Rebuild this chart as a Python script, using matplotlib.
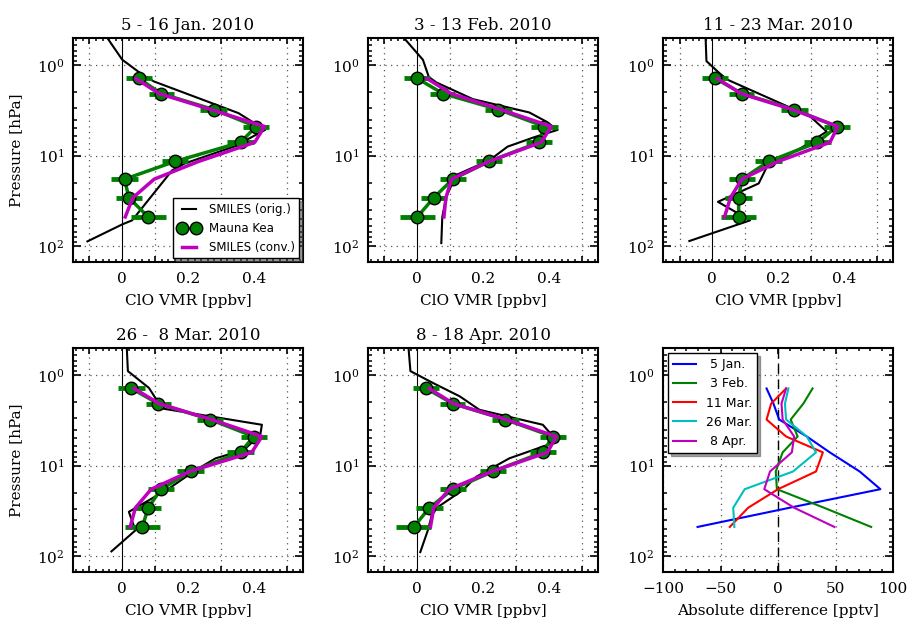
import matplotlib
matplotlib.use("Agg")
import matplotlib.pyplot as plt
from matplotlib.ticker import FixedLocator, MultipleLocator, NullFormatter, FuncFormatter

plt.rcParams['font.family'] = 'serif'
plt.rcParams['font.serif'] = ['DejaVu Serif']
plt.rcParams['mathtext.fontset'] = 'dejavuserif'
plt.rcParams['xtick.direction'] = 'in'
plt.rcParams['ytick.direction'] = 'in'
plt.rcParams['xtick.top'] = True
plt.rcParams['ytick.right'] = True
plt.rcParams['xtick.major.size'] = 4.5
plt.rcParams['ytick.major.size'] = 5.5
plt.rcParams['xtick.minor.size'] = 2.5
plt.rcParams['ytick.minor.size'] = 3
plt.rcParams['xtick.major.width'] = 1.2
plt.rcParams['ytick.major.width'] = 1.2
plt.rcParams['xtick.minor.width'] = 1.1
plt.rcParams['ytick.minor.width'] = 1.1
plt.rcParams['axes.linewidth'] = 1.5

# Mauna Kea retrieval levels [hPa] and errors [ppbv]
MK_P = [1.40, 2.06, 3.09, 4.76, 7.13, 11.6, 18.2, 29.2, 47.6]
MK_ERR = [0.040, 0.038, 0.040, 0.040, 0.040, 0.040, 0.040, 0.040, 0.054]

titles = ['5 - 16 Jan. 2010', '3 - 13 Feb. 2010', '11 - 23 Mar. 2010',
          '26 -  8 Mar. 2010', '8 - 18 Apr. 2010']

mk_jan = [0.051, 0.118, 0.278, 0.407, 0.360, 0.160, 0.007, 0.020, 0.079]
mk_feb = [0.000, 0.078, 0.247, 0.387, 0.370, 0.218, 0.108, 0.050, 0.000]
mk_mar = [0.009, 0.090, 0.250, 0.379, 0.320, 0.171, 0.090, 0.080, 0.080]
mk_mar26 = [0.028, 0.109, 0.268, 0.400, 0.360, 0.208, 0.118, 0.079, 0.061]
mk_apr = [0.027, 0.108, 0.268, 0.412, 0.382, 0.230, 0.108, 0.037, -0.011]

conv_jan = [0.041, 0.112, 0.270, 0.433, 0.403, 0.232, 0.097, 0.032, 0.009]
conv_feb = [0.029, 0.103, 0.254, 0.408, 0.377, 0.218, 0.104, 0.087, 0.081]
conv_mar = [0.015, 0.087, 0.244, 0.382, 0.358, 0.200, 0.090, 0.055, 0.037]
conv_mar26 = [0.036, 0.112, 0.272, 0.425, 0.394, 0.205, 0.088, 0.040, 0.024]
conv_apr = [0.036, 0.110, 0.271, 0.423, 0.396, 0.227, 0.097, 0.050, 0.040]

# SMILES original profiles (pressure [hPa], vmr [ppbv])
orig_p_jan = [0.44, 0.87, 1.27, 1.51, 3.39, 5.19, 7.94, 12.2, 14.5, 51.9, 57.5, 88.7]
orig_jan = [-0.056, 0.000, 0.061, 0.096, 0.354, 0.435, 0.340, 0.190, 0.152, 0.030, 0.000, -0.106]
orig_p_feb = [0.44, 0.87, 1.35, 1.55, 2.37, 3.33, 4.19, 5.19, 6.25, 7.94, 11.2, 16.4, 28.6, 47.6, 92.7]
orig_feb = [-0.054, 0.017, 0.035, 0.058, 0.169, 0.341, 0.392, 0.427, 0.356, 0.275, 0.220, 0.118, 0.088, 0.076, 0.073]
orig_p_mar = [0.44, 0.90, 1.20, 1.44, 3.69, 5.41, 7.94, 13.3, 20.3, 32.4, 51.9, 87.9]
orig_mar = [-0.021, -0.018, 0.019, 0.045, 0.298, 0.348, 0.277, 0.166, 0.141, 0.017, 0.115, -0.070]
orig_p_mar26 = [0.44, 0.90, 1.38, 1.79, 2.35, 3.53, 4.56, 6.7, 8.3, 11.2, 17.9, 32.4, 51.9, 88.7]
orig_mar26 = [0.013, 0.017, 0.081, 0.101, 0.127, 0.425, 0.420, 0.370, 0.284, 0.223, 0.142, 0.020, 0.040, -0.033]
orig_p_apr = [0.44, 0.90, 1.22, 1.71, 2.41, 3.53, 5.41, 6.15, 8.3, 13.3, 18.6, 31.1, 51.9, 90.3]
orig_apr = [-0.028, -0.021, 0.048, 0.129, 0.189, 0.382, 0.427, 0.382, 0.280, 0.179, 0.139, 0.048, 0.032, 0.009]

# absolute difference [pptv]
diff_labels = [' 5 Jan.', ' 3 Feb.', '11 Mar.', '26 Mar.', ' 8 Apr.']
diff_colors = ['b', 'g', 'r', 'c', 'm']
diff_jan = [-10, -4, 1, 25, 45, 71, 89, 10, -70]
diff_feb = [30, 22, 11, 17, 4, -2, -1, 40, 81]
diff_mar = [7, -6, -10, 7, 39, 33, 0, -26, -42]
diff_mar26 = [9, 6, 7, 25, 33, 13, -29, -39, -38]
diff_apr = [7, 3, 4, 14, 12, -7, -12, 14, 49]

mk_all = [mk_jan, mk_feb, mk_mar, mk_mar26, mk_apr]
conv_all = [conv_jan, conv_feb, conv_mar, conv_mar26, conv_apr]
orig_all = [(orig_p_jan, orig_jan), (orig_p_feb, orig_feb), (orig_p_mar, orig_mar),
            (orig_p_mar26, orig_mar26), (orig_p_apr, orig_apr)]
diff_all = [diff_jan, diff_feb, diff_mar, diff_mar26, diff_apr]

GRID = dict(color='0.35', linestyle=(0, (1, 3.5)), linewidth=0.9)


def vmr_label(x, pos):
    for v, s in [(0.0, '0'), (0.2, '0.2'), (0.4, '0.4')]:
        if abs(x - v) < 1e-6:
            return s
    return ''


def setup_pressure(ax):
    ax.set_yscale('log')
    ax.set_ylim(150, 0.5)
    ax.yaxis.grid(True, which='major', **GRID)
    ax.tick_params(axis='y', labelsize=11, pad=6)


fig, axes = plt.subplots(2, 3, figsize=(9.07, 6.19), dpi=100)
fig.subplots_adjust(left=0.0805, right=0.9846, top=0.9386, bottom=0.0759,
                    wspace=0.283, hspace=0.384)

for i in range(5):
    ax = axes.flat[i]
    op, ov = orig_all[i]
    ax.axvline(0, color='k', lw=0.8)
    ax.plot(ov, op, 'k-', lw=1.5, label='SMILES (orig.)')
    ax.errorbar(mk_all[i], MK_P, xerr=MK_ERR, fmt='none', ecolor='g',
                elinewidth=3.5, capsize=0)
    ax.plot(mk_all[i], MK_P, 'o-', color='g', mec='k', lw=2.5, ms=9,
            label='Mauna Kea')
    ax.plot(conv_all[i], MK_P, '-', color='m', lw=2.5, label='SMILES (conv.)')
    setup_pressure(ax)
    ax.set_xlim(-0.15, 0.55)
    ax.xaxis.set_major_locator(FixedLocator([-0.1, 0.1, 0.3, 0.5]))
    ax.xaxis.set_major_formatter(NullFormatter())
    ax.xaxis.set_minor_locator(MultipleLocator(0.02))
    ax.xaxis.set_minor_formatter(FuncFormatter(vmr_label))
    ax.xaxis.grid(True, which='major', **GRID)
    ax.tick_params(axis='x', which='both', labelsize=11, pad=7)
    ax.set_title(titles[i], fontsize=12)
    ax.set_xlabel('ClO VMR [ppbv]', fontsize=11, labelpad=6)
    if i % 3 == 0:
        ax.set_ylabel('Pressure [hPa]', fontsize=11, labelpad=10)
    if i == 0:
        ax.legend(loc='lower right', numpoints=2, fancybox=False, shadow=True,
                  prop={'family': 'DejaVu Sans', 'size': 8.5}, handlelength=1.8,
                  borderaxespad=0.3, edgecolor='k', framealpha=1)

ax = axes.flat[5]
ax.axvline(0, color='k', lw=1, dashes=(7, 4))
for d, lab, c in zip(diff_all, diff_labels, diff_colors):
    ax.plot(d, MK_P, '-', color=c, lw=1.5, label=lab)
setup_pressure(ax)
ax.set_xlim(-100, 100)
ax.xaxis.set_major_locator(MultipleLocator(50))
ax.xaxis.set_minor_locator(MultipleLocator(10))
ax.xaxis.grid(True, which='major', **GRID)
ax.tick_params(axis='x', labelsize=11, pad=7)
ax.set_xlabel('Absolute difference [pptv]', fontsize=11, labelpad=6)
ax.legend(loc='upper left', fancybox=False, shadow=True,
          prop={'family': 'DejaVu Sans', 'size': 9}, handlelength=1.8,
          borderaxespad=0.4, edgecolor='k', framealpha=1)

fig.savefig('out.png', dpi=100)
